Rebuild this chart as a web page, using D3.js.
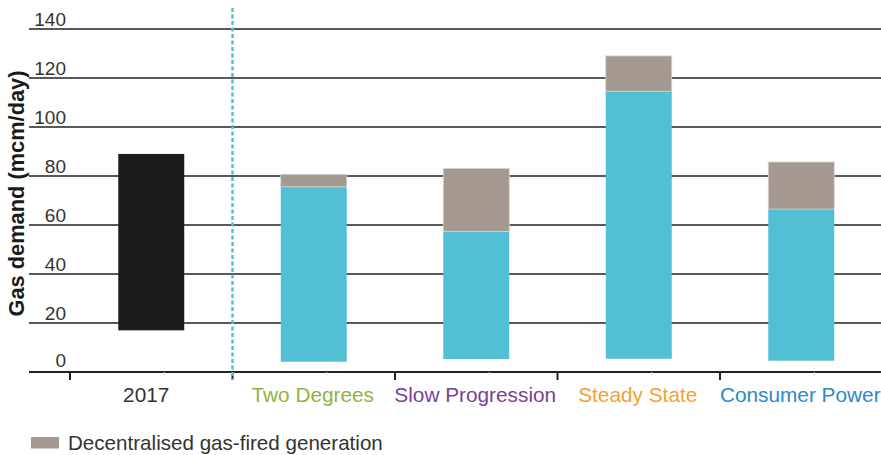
<!DOCTYPE html>
<html><head><meta charset="utf-8">
<script src="https://cdn.jsdelivr.net/npm/d3@7"></script>
<style>
html,body{margin:0;padding:0;background:#fff;}
svg{display:block;font-family:"Liberation Sans",Arial,Helvetica,sans-serif;}
</style></head>
<body><svg id="c" width="881" height="455"></svg>
<script>
// Data
const categories = ["2017", "Two Degrees", "Slow Progression", "Steady State", "Consumer Power"];
const categoryColors = ["#333333", "#8db53f", "#7a3f97", "#f5a032", "#2a8acb"];
const baseStart = [17, 4.2, 5.3, 5.4, 4.6];     // bottom of each bar
const mainTop   = [89, 75.6, 57.4, 114.6, 66.5]; // top of main (black / cyan) segment
const decTop    = [89, 80.7, 83.1, 129, 85.7];   // top of decentralised gas-fired segment
const yTicks = [0, 20, 40, 60, 80, 100, 120, 140];
const legendLabel = "Decentralised gas-fired generation";
const yTitle = "Gas demand (mcm/day)";

const svg = d3.select("#c");
const x = d3.scaleBand().domain(categories).range([70, 882.5]).paddingInner(0.594).paddingOuter(0.297);
const y = d3.scaleLinear().domain([0, 140]).range([372, 29]);

// gridlines
svg.append("g").selectAll("line").data(yTicks.filter(d => d > 0)).join("line")
  .attr("x1", 29).attr("x2", 881)
  .attr("y1", d => y(d)).attr("y2", d => y(d))
  .attr("stroke", "#222").attr("stroke-width", 1.3);

// y labels
svg.append("g").selectAll("text").data(yTicks).join("text")
  .attr("x", 66).attr("y", d => y(d) - (d === 0 ? 5 : 3))
  .attr("text-anchor", "end").attr("font-size", 19).attr("fill", "#333")
  .text(d => d);

// y title
svg.append("text")
  .attr("transform", "translate(24,193.5) rotate(-90)")
  .attr("text-anchor", "middle").attr("font-size", 21.8).attr("font-weight", "bold").attr("fill", "#1a1a1a")
  .text(yTitle);

// bars
const g = svg.append("g");
categories.forEach((c, i) => {
  const isHist = i === 0;
  g.append("rect")
    .attr("x", x(c)).attr("width", x.bandwidth())
    .attr("y", y(mainTop[i])).attr("height", y(baseStart[i]) - y(mainTop[i]))
    .attr("fill", isHist ? "#1c1c1a" : "#53bfd4");
  if (decTop[i] > mainTop[i]) {
    g.append("rect")
      .attr("x", x(c)).attr("width", x.bandwidth())
      .attr("y", y(decTop[i])).attr("height", y(mainTop[i]) - y(decTop[i]))
      .attr("fill", "#a59891").attr("stroke", "#d9d3cf").attr("stroke-width", 0.8);
  }
});

// x axis line and ticks
svg.append("line").attr("x1", 29).attr("x2", 881).attr("y1", 372).attr("y2", 372)
  .attr("stroke", "#222").attr("stroke-width", 2.2);
const bounds = categories.map(c => x(c) - x.step() * x.paddingInner() / 2);
svg.append("g").selectAll("line").data(bounds).join("line")
  .attr("x1", d => d).attr("x2", d => d).attr("y1", 372).attr("y2", 380)
  .attr("stroke", "#222").attr("stroke-width", 2);
svg.append("g").selectAll("line").data(categories).join("line")
  .attr("x1", d => x(d) + x.bandwidth() / 2 + 13).attr("x2", d => x(d) + x.bandwidth() / 2 + 13)
  .attr("y1", 372).attr("y2", 376)
  .attr("stroke", "#e2e2e2").attr("stroke-width", 1);

// x labels
svg.append("g").selectAll("text").data(categories).join("text")
  .attr("x", (d, i) => x(d) + x.bandwidth() / 2 + (i === 0 ? -5 : -1)).attr("y", 402)
  .attr("text-anchor", "middle").attr("font-size", 20.8)
  .attr("fill", (d, i) => categoryColors[i])
  .text(d => d);

// dotted divider
svg.append("line").attr("x1", bounds[1]).attr("x2", bounds[1]).attr("y1", 8).attr("y2", 380)
  .attr("stroke", "#4ec3d6").attr("stroke-width", 2.5).attr("stroke-dasharray", "4,2.5");

// legend
svg.append("rect").attr("x", 31).attr("y", 437).attr("width", 28).attr("height", 11.5).attr("fill", "#a59891");
svg.append("text").attr("x", 68).attr("y", 450).attr("font-size", 20.6).attr("fill", "#333").text(legendLabel);
</script></body></html>
